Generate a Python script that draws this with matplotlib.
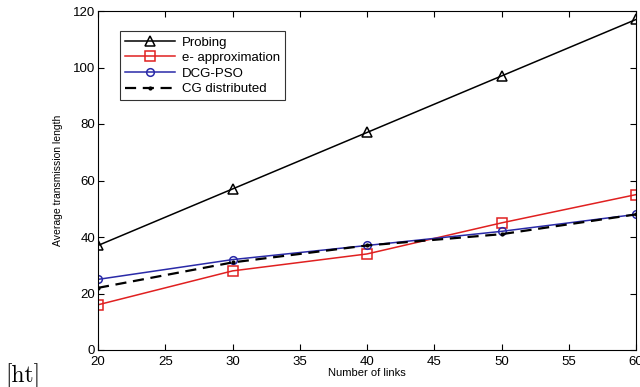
import numpy as np
import matplotlib.pyplot as plt

plt.rcParams['font.family'] = ['Liberation Sans', 'DejaVu Sans']

links = [20, 30, 40, 50, 60]
probing = [37, 57, 77, 97, 117]
e_approx = [16, 28, 34, 45, 55]
dcg_pso = [25, 32, 37, 42, 48]
cg_dist = [22, 31, 37, 41, 48]

fig = plt.figure(figsize=(6.4, 3.87), dpi=100)
ax = fig.add_axes([98/640, 1-350/387, (636-98)/640, (350-11)/387])

ax.plot(links, probing, color="k", lw=1.1, marker="^", ms=6.5, mfc="none", mew=1.1, label="Probing")
ax.plot(links, e_approx, color="#e02020", lw=1.1, marker="s", ms=6.5, mfc="none", mew=1.1, label="e- approximation")
ax.plot(links, dcg_pso, color="#2a2aa8", lw=1.1, marker="o", ms=5.5, mfc="none", mew=1.1, label="DCG-PSO")
ax.plot(links, cg_dist, color="k", lw=1.6, ls=(0, (5, 3)), marker=".", ms=4, label="CG distributed")

ax.set_xlim(20, 60)
ax.set_ylim(0, 120)
ax.set_xticks(np.arange(20, 61, 5))
ax.set_yticks(np.arange(0, 121, 20))
ax.tick_params(direction="in", top=True, right=True, labelsize=9.5, length=4)
ax.tick_params(axis="x", pad=4)
ax.tick_params(axis="y", pad=2)
ax.set_xlabel("Number of links", fontsize=8, labelpad=0)
ax.set_ylabel("Average transmission length", fontsize=7.5, labelpad=7)

leg = ax.legend(loc="upper left", bbox_to_anchor=(0.041, 0.941), borderaxespad=0,
                fontsize=9.5, frameon=True, fancybox=False, edgecolor="k",
                handlelength=3.8, borderpad=0.4, labelspacing=0.25, handletextpad=0.5)
leg.get_frame().set_linewidth(0.8)

fig.text(0.008, 0.012, "[ht]", fontsize=17, family="cmr10")

plt.savefig("out.png", dpi=100, facecolor="white")
